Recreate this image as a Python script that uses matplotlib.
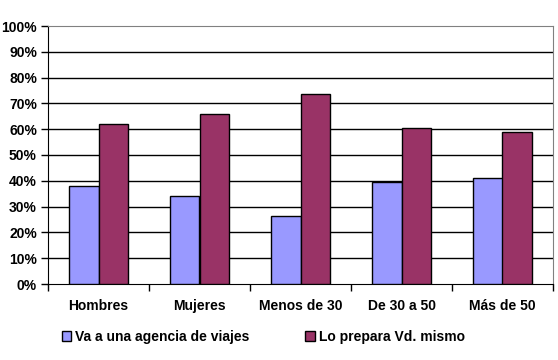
import numpy as np
import matplotlib.pyplot as plt

categories = ["Hombres", "Mujeres", "Menos de 30", "De 30 a 50", "Más de 50"]
agencia = [38, 34, 26.5, 39.5, 41]
mismo = [62, 66, 73.5, 60.5, 59]
yticks = [0, 10, 20, 30, 40, 50, 60, 70, 80, 90, 100]
series_names = ["Va a una agencia de viajes", "Lo prepara Vd. mismo"]

plt.rcParams['font.family'] = ['Liberation Sans', 'DejaVu Sans']

fig = plt.figure(figsize=(5.58, 3.6), dpi=100)
ax = fig.add_axes([48 / 558, 76 / 360, 505 / 558, 258 / 360])

x = np.arange(len(categories))
w = 0.29
ax.bar(x - w / 2, agencia, w, color="#9999FF", edgecolor="black", linewidth=1,
       label=series_names[0], zorder=3)
ax.bar(x + w / 2, mismo, w, color="#993366", edgecolor="black", linewidth=1,
       label=series_names[1], zorder=3)

ax.set_xlim(-0.5, len(categories) - 0.5)
ax.set_ylim(0, 100)
ax.set_yticks(yticks)
ax.set_yticklabels([f"{v}%" for v in yticks], fontsize=10, fontweight="bold")
ax.set_xticks(np.arange(-0.5, len(categories), 1))
ax.set_xticklabels([])
ax.set_xticks(x, minor=True)
ax.set_xticklabels(categories, minor=True, fontsize=10, fontweight="bold")
ax.tick_params(axis="x", which="minor", length=0, pad=11)
ax.tick_params(axis="x", which="major", length=5, width=1, color="black")
ax.tick_params(axis="y", length=5, width=1, pad=3)

for v in yticks[1:-1]:
    ax.axhline(v, color="black", linewidth=1, zorder=1)

ax.spines["left"].set_color("black")
ax.spines["bottom"].set_color("black")
ax.spines["top"].set_color("#808080")
ax.spines["right"].set_color("#808080")

fig.legend(loc="lower left", bbox_to_anchor=(49 / 558, 4 / 360), ncol=2,
           frameon=False, handlelength=0.7, handleheight=0.7, handletextpad=0.3,
           columnspacing=4.0, prop={"size": 10, "weight": "bold"})

fig.savefig("out.png", dpi=100)
